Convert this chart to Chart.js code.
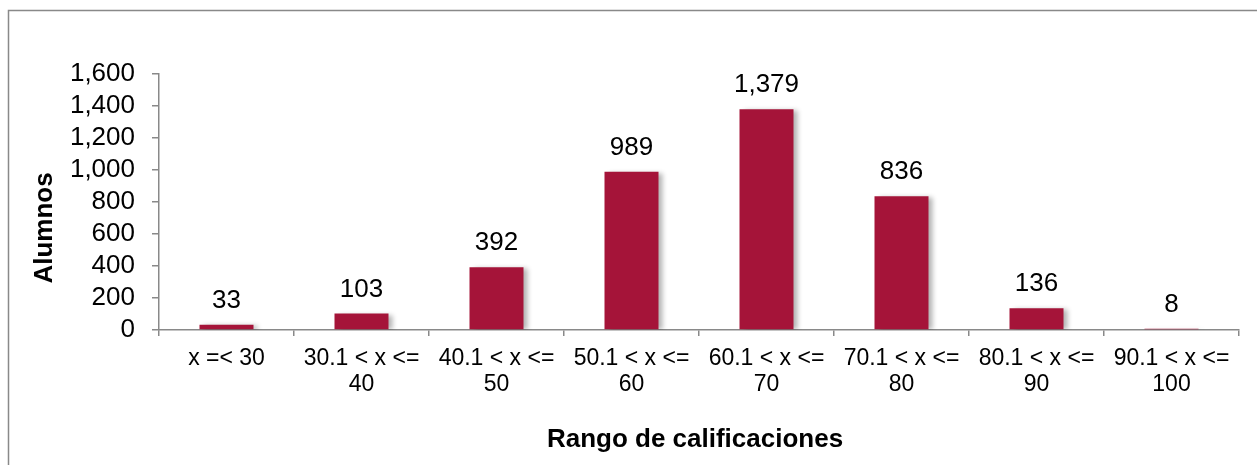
<!DOCTYPE html>
<html>
<head>
<meta charset="utf-8">
<script src="https://cdn.jsdelivr.net/npm/chart.js@4"></script>
<style>
  html, body { margin: 0; padding: 0; background: #fff; }
  #wrap { width: 1257px; height: 465px; }
</style>
</head>
<body>
<div id="wrap"><canvas id="myChart" width="1257" height="465"></canvas></div>
<script>
let categories = [
  "x =< 30",
  ["30.1 < x <=", "40"],
  ["40.1 < x <=", "50"],
  ["50.1 < x <=", "60"],
  ["60.1 < x <=", "70"],
  ["70.1 < x <=", "80"],
  ["80.1 < x <=", "90"],
  ["90.1 < x <=", "100"],
];
let alumnos = [33, 103, 392, 989, 1379, 836, 136, 8];
let yTicks = [0, 200, 400, 600, 800, 1000, 1200, 1400, 1600];

let font = "'Liberation Sans', Arial, sans-serif";
let axisGray = "#898989";

// frame around the chart (only top and left edges are visible in the window)
let framePlugin = {
  id: "frame",
  beforeDraw(chart) {
    let ctx = chart.ctx;
    ctx.save();
    ctx.strokeStyle = axisGray;
    ctx.lineWidth = 1.5;
    ctx.beginPath();
    ctx.moveTo(8.5, chart.height);
    ctx.lineTo(8.5, 10.5);
    ctx.lineTo(chart.width, 10.5);
    ctx.stroke();
    ctx.restore();
  },
};

// soft shadow to the right of the bars
let shadowPlugin = {
  id: "barShadow",
  beforeDatasetDraw(chart) {
    let ctx = chart.ctx;
    ctx.save();
    ctx.shadowColor = "rgba(0,0,0,0.3)";
    ctx.shadowOffsetX = 4;
    ctx.shadowOffsetY = 1;
    ctx.shadowBlur = 5;
  },
  afterDatasetDraw(chart) {
    chart.ctx.restore();
  },
};

// value labels over bars + axis titles
let labelPlugin = {
  id: "labels",
  afterDatasetsDraw(chart) {
    let ctx = chart.ctx;
    let meta = chart.getDatasetMeta(0);
    ctx.save();
    ctx.fillStyle = "#000";
    ctx.font = "26px " + font;
    ctx.textAlign = "center";
    ctx.textBaseline = "alphabetic";
    meta.data.forEach((bar, i) => {
      ctx.fillText(alumnos[i].toLocaleString("en-US"), bar.x, bar.y - 17);
    });

    let area = chart.chartArea;
    ctx.font = "bold 26px " + font;
    ctx.fillText("Rango de calificaciones", (area.left + area.right) / 2 - 4, 447);

    ctx.translate(52, 228);
    ctx.rotate(-Math.PI / 2);
    ctx.fillText("Alumnos", 0, 0);
    ctx.restore();
  },
};

new Chart(document.getElementById("myChart"), {
  type: "bar",
  data: {
    labels: categories,
    datasets: [
      {
        label: "Alumnos",
        data: alumnos,
        backgroundColor: "#A51439",
        borderWidth: 0,
        barPercentage: 0.4,
        categoryPercentage: 1,
      },
    ],
  },
  options: {
    responsive: false,
    animation: false,
    layout: { padding: { left: 0, top: 74, right: 18, bottom: 0 } },
    plugins: {
      legend: { display: false },
      tooltip: { enabled: false },
    },
    scales: {
      x: {
        afterFit(scale) {
          scale.height = 135;
        },
        grid: {
          offset: true,
          drawOnChartArea: false,
          drawTicks: true,
          tickLength: 6,
          color: axisGray,
          lineWidth: 1.5,
        },
        border: { display: true, color: axisGray, width: 1.5 },
        ticks: {
          color: "#000",
          font: { family: font, size: 23, lineHeight: 1.13 },
          padding: 10,
          maxRotation: 0,
          autoSkip: false,
        },
      },
      y: {
        min: 0,
        max: 1600,
        afterFit(scale) {
          scale.width = 159;
        },
        afterBuildTicks(scale) {
          scale.ticks = yTicks.map((v) => ({ value: v }));
        },
        grid: {
          drawOnChartArea: false,
          drawTicks: true,
          tickLength: 7,
          color: axisGray,
          lineWidth: 1.5,
        },
        border: { display: true, color: axisGray, width: 1.5 },
        ticks: {
          color: "#000",
          font: { family: font, size: 26 },
          padding: 17,
          autoSkip: false,
          callback: (v) => v.toLocaleString("en-US"),
        },
      },
    },
  },
  plugins: [framePlugin, shadowPlugin, labelPlugin],
});
</script>
</body>
</html>
